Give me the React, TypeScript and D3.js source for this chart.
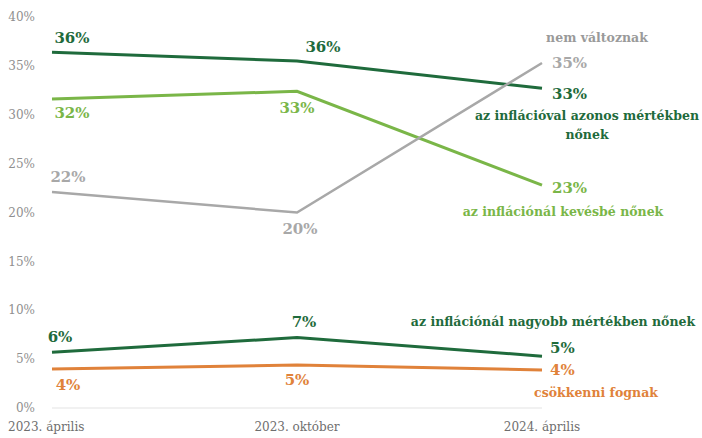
import React from "react";
import * as d3 from "d3";

const categories = ["2023. április", "2023. október", "2024. április"];
const yTicks = [0, 5, 10, 15, 20, 25, 30, 35, 40];

const seriesNames = [
  "az inflációval azonos mértékben nőnek",
  "az inflációnál kevésbé nőnek",
  "nem változnak",
  "az inflációnál nagyobb mértékben nőnek",
  "csökkenni fognak",
];
const azonos = [36.4, 35.5, 32.7];
const kevesbe = [31.6, 32.4, 22.8];
const nemValt = [22.1, 20.0, 35.3];
const nagyobb = [5.7, 7.2, 5.3];
const csokken = [4.0, 4.4, 3.9];
const azonosLbl = ["36%", "36%", "33%"];
const kevesbeLbl = ["32%", "33%", "23%"];
const nemValtLbl = ["22%", "20%", "35%"];
const nagyobbLbl = ["6%", "7%", "5%"];
const csokkenLbl = ["4%", "5%", "4%"];

const W = 702, H = 438;
const FONT = "DejaVu Serif";

export default function App() {
  const x = d3.scalePoint<string>().domain(categories).range([52, 542]);
  const y = d3.scaleLinear().domain([0, 40]).range([408, 17]);
  const line = d3.line<number>().x((_, i) => x(categories[i])!).y((d) => y(d));

  const series = [
    { vals: azonos, lbl: azonosLbl, color: "#1f6b3c", w: 3,
      offs: [[20, -14, "middle"], [26, -14, "middle"], [10, 5, "start"]] },
    { vals: kevesbe, lbl: kevesbeLbl, color: "#7ab648", w: 3,
      offs: [[20, 14, "middle"], [0, 16, "middle"], [10, 3, "start"]] },
    { vals: nemValt, lbl: nemValtLbl, color: "#a8a8a8", w: 2.5,
      offs: [[16, -15, "middle"], [3, 16, "middle"], [10, 0, "start"]] },
    { vals: nagyobb, lbl: nagyobbLbl, color: "#1f6b3c", w: 3,
      offs: [[8, -16, "middle"], [7, -16, "middle"], [8, -8, "start"]] },
    { vals: csokken, lbl: csokkenLbl, color: "#e0823a", w: 3,
      offs: [[16, 16, "middle"], [0, 15, "middle"], [8, 0, "start"]] },
  ];

  const nameLabels = [
    { lines: ["az inflációval azonos mértékben", "nőnek"], x: 587, y: 116, color: "#1f6b3c" },
    { lines: ["az inflációnál kevésbé nőnek"], x: 563, y: 212, color: "#7ab648" },
    { lines: ["nem változnak"], x: 597, y: 38, color: "#9a9a9a" },
    { lines: ["az inflációnál nagyobb mértékben nőnek"], x: 553, y: 322, color: "#1f6b3c" },
    { lines: ["csökkenni fognak"], x: 596, y: 393, color: "#e0823a" },
  ];

  return (
    <svg width={W} height={H} style={{ position: "absolute", left: 0, top: 0, background: "#fff" }}>
      <line x1={52} x2={542} y1={y(0)} y2={y(0)} stroke="#e3e3e3" strokeWidth={1} />
      {yTicks.map((t) => (
        <text key={t} x={35} y={y(t)} dy="0.35em" textAnchor="end" fontFamily={FONT}
          fontSize={12} fill="#8f8f8f">{t}%</text>
      ))}
      {categories.map((c, i) => (
        <text key={c} x={i === 0 ? 8 : x(c)!} y={431} textAnchor={i === 0 ? "start" : "middle"} fontFamily={FONT}
          fontSize={12} fill="#6e6e6e">{c}</text>
      ))}
      {series.map((s, si) => (
        <g key={si}>
          <path d={line(s.vals)!} fill="none" stroke={s.color} strokeWidth={s.w} />
          {s.vals.map((v, i) => (
            <text key={i} x={x(categories[i])! + (s.offs[i][0] as number)}
              y={y(v) + (s.offs[i][1] as number)} dy="0.35em"
              textAnchor={s.offs[i][2] as any} fontFamily={FONT} fontSize={15}
              fontWeight="bold" fill={s.color}>{s.lbl[i]}</text>
          ))}
        </g>
      ))}
      {nameLabels.map((n, ni) => (
        <text key={ni} textAnchor="middle" fontFamily={FONT} fontSize={12.5}
          fontWeight="bold" fill={n.color}>
          {n.lines.map((l, li) => (
            <tspan key={li} x={n.x} y={n.y + li * 19} dy="0.35em">{l}</tspan>
          ))}
        </text>
      ))}
      <desc>{seriesNames.join(", ")}</desc>
    </svg>
  );
}
